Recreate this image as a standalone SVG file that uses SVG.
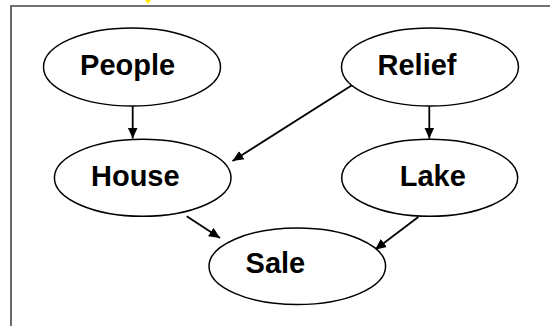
<svg xmlns="http://www.w3.org/2000/svg" width="550" height="326" viewBox="0 0 550 326">
<style>
.node ellipse{fill:#fff;stroke:#000;stroke-width:1.5}
.node text{font-family:"Liberation Sans",Arial,sans-serif;font-weight:bold;font-size:29px;fill:#000;text-anchor:middle}
.edge{stroke:#000;stroke-width:1.8;fill:none;marker-end:url(#ah)}
.frame{stroke:#444;stroke-width:1.6;fill:none}
</style>
<defs>
<marker id="ah" markerUnits="userSpaceOnUse" markerWidth="12" markerHeight="12" viewBox="0 0 12 12" refX="11" refY="6" orient="auto">
<path d="M0,1 L11,6 L0,11 Z" fill="#000"/>
</marker>
</defs>
<rect width="550" height="326" fill="#fff"/>
<polyline class="frame" points="11,326 11,6 550,6"/>
<polygon points="145,0 151,0 148,4" fill="#ffee00"/>
<g id="connectors">
<line class="edge" x1="132.7" y1="106" x2="132.7" y2="138.5"/>
<line class="edge" x1="352.3" y1="85" x2="232.5" y2="161"/>
<line class="edge" x1="429.3" y1="106" x2="429.3" y2="138.5"/>
<line class="edge" x1="186.7" y1="216.3" x2="220" y2="238"/>
<line class="edge" x1="418.3" y1="217" x2="375" y2="249.7"/>
</g>
<g id="people" class="node"><ellipse cx="132" cy="67" rx="88.5" ry="39"/><text x="127.6" y="75">People</text></g>
<g id="relief" class="node"><ellipse cx="430" cy="67" rx="88.5" ry="39"/><text x="417" y="75">Relief</text></g>
<g id="house" class="node"><ellipse cx="142.7" cy="177.8" rx="88.3" ry="38.5"/><text x="135.3" y="186.3">House</text></g>
<g id="lake" class="node"><ellipse cx="429.7" cy="177.8" rx="88" ry="38.5"/><text x="432.8" y="186.3">Lake</text></g>
<g id="sale" class="node"><ellipse cx="297.3" cy="266.3" rx="88.3" ry="38.3"/><text x="275.4" y="273">Sale</text></g>
</svg>
